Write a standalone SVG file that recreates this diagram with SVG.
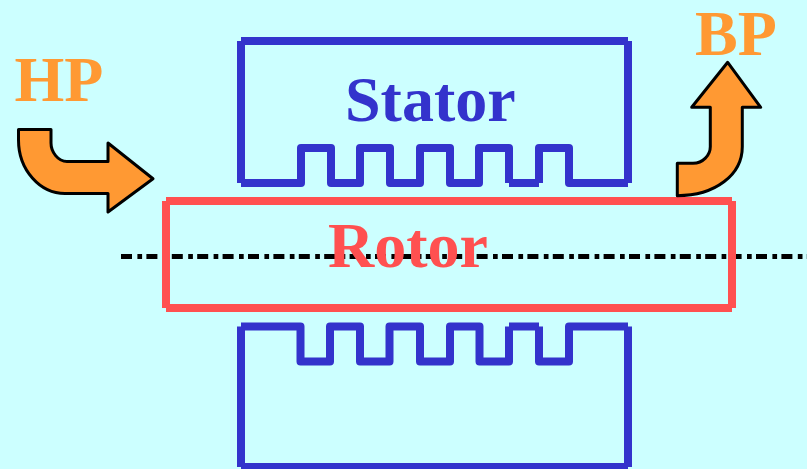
<svg xmlns="http://www.w3.org/2000/svg" width="807" height="469" viewBox="0 0 807 469">
<style>
.stator{fill:none;stroke:#3333cc;stroke-width:8;stroke-linejoin:round}
.rotor{fill:none;stroke:#ff5050;stroke-width:8}
.axis{fill:none;stroke:#000;stroke-width:5;stroke-dasharray:11 5.4 4.7 4.3}
.flow{fill:#ff9933;stroke:#000;stroke-width:3;stroke-linejoin:round}
text{font-family:"Liberation Serif","Times New Roman",serif;font-weight:bold;font-size:64px}
.o{fill:#ff9933}
</style>
<rect width="807" height="469" fill="#ccffff"/>
<g id="connectors">
<path id="axis" class="axis" d="M121 256.500H807"/>
</g>
<g id="stator-top">
<path class="stator" d="M241 183V41M241 41H628M628 41V183M628 183H569V148H539V183M539 183H509M509 183V148H479V183H450V148H420V183H390V148H360V183H331V148H301V183H241"/>
<text x="345" y="121" fill="#3333cc">Stator</text>
</g>
<g id="stator-bottom">
<path class="stator" d="M241 467V326.500M241 326.500H300.500V361.500H330V326.500H360V361.500H389.500V326.500H420V361.500H450V326.500H479.500V361.500H509V326.500M509 326.500H539M539 326.500V361.500H569V326.500H628M628 326.500V467M628 467H241"/>
</g>
<g id="rotor">
<path class="rotor" d="M166 201H732M732 201V308M732 308H166M166 308V201"/>
<text x="328" y="267" fill="#ff5050">Rotor</text>
</g>
<g id="hp">
<text class="o" x="14.500" y="101">HP</text>
<path class="flow" d="M18.500 129.500H51V143C51 152 58 161.500 67 161.500H108V143L153 178.700L108 212V193.500H65C40 193.500 18.500 170 18.500 140Z"/>
</g>
<g id="bp">
<text class="o" x="695" y="55">BP</text>
<path class="flow" d="M727.700 62.300L760.700 107.300H742.300V146.700C742.300 175 715 195.700 677.300 195.700V163.300H693C703 163.300 710.300 155 710.300 146.700V107.300H691.700Z"/>
</g>
</svg>
